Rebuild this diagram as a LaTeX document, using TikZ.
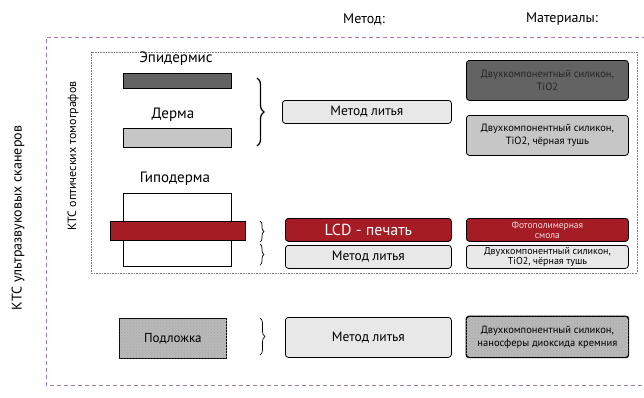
\documentclass[tikz,border=0pt]{standalone}
\usepackage{fontspec}
\setmainfont{PT Sans}
\usetikzlibrary{decorations.pathreplacing,patterns}
\definecolor{kred}{HTML}{A51C24}
\definecolor{kdark}{HTML}{636363}
\definecolor{kmid}{HTML}{C6C6C6}
\definecolor{klight}{HTML}{E8E8E8}
\definecolor{kpurple}{HTML}{A87AA8}
\tikzset{
  bx/.style={draw=black, line width=0.8pt, rounded corners=3pt, inner sep=0pt, anchor=north west},
  layer/.style={draw=black, line width=0.8pt, inner sep=0pt, anchor=north west},
  tex/.style={pattern=crosshatch dots, pattern color=gray!70},
  br/.style={decorate, decoration={brace, amplitude=#1}, line width=0.7pt},
  hdr/.style={font=\fontsize{14}{16}\selectfont},
  lbl/.style={font=\fontsize{15}{17}\selectfont},
  mlit/.style={font=\fontsize{13.5}{15}\selectfont},
  mat/.style={font=\fontsize{10.5}{13}\selectfont, align=center},
  matsm/.style={font=\fontsize{10}{10.5}\selectfont, align=center},
}
\begin{document}
\begin{tikzpicture}[x=1pt,y=-1pt]
\useasboundingbox (0,0) rectangle (644,397);
% outer and inner frames
\draw[kpurple, line width=0.7pt, dash pattern=on 4pt off 3pt] (660,37) -- (46,37) -- (46,385) -- (660,385);
\draw[gray, densely dotted, line width=0.6pt] (91,52) rectangle (637,273);
% headers
\node[hdr] (hm) at (364,19) {Метод:};
\node[hdr] (hmat) at (562,19) {Материалы:};
\node[font=\fontsize{14}{16}\selectfont, rotate=90] (us) at (18,218) {КТС ультразвуковых сканеров};
\node[font=\fontsize{12}{14}\selectfont, rotate=90] (ot) at (73,156) {КТС оптических томографов};
% layers
\node[lbl] (epi) at (176,59) {Эпидермис};
\node[layer, fill=kdark, minimum width=108pt, minimum height=15pt] (epib) at (123,73) {};
\node[lbl] (der) at (173,115) {Дерма};
\node[layer, fill=kmid, minimum width=108pt, minimum height=19pt] (derb) at (123,128) {};
\node[lbl] (hyp) at (175,179) {Гиподерма};
\node[layer, fill=white, minimum width=108pt, minimum height=73pt] (hypb) at (123,193) {};
\node[layer, fill=kred, minimum width=135pt, minimum height=19pt] (hypr) at (110,221) {};
\node[layer, fill=gray!55, minimum width=107pt, minimum height=40pt] (sub) at (119,318) {};
\fill[tex] (sub.north west) rectangle (sub.south east);
\node[font=\fontsize{13}{15}\selectfont] (subt) at (sub.center) {Подложка};
% braces
\coordinate (b1a) at (257,78); \coordinate (b1b) at (257,146);
\draw[br=7pt, line width=1.2pt] (b1a) -- (b1b);
\coordinate (b2a) at (260,221); \coordinate (b2b) at (260,242);
\draw[br=4pt] (b2a) -- (b2b);
\coordinate (b3a) at (260,244); \coordinate (b3b) at (260,265);
\draw[br=4pt] (b3a) -- (b3b);
\coordinate (b4a) at (260,318); \coordinate (b4b) at (260,355);
\draw[br=5pt] (b4a) -- (b4b);
% methods
\node[bx, fill=klight, minimum width=169pt, minimum height=23pt, mlit] (m1) at (282,100) {Метод литья};
\node[bx, fill=kred, text=white, minimum width=166pt, minimum height=23pt, font=\fontsize{16}{18}\selectfont] (m2) at (285,218) {LCD - печать};
\node[bx, fill=klight, minimum width=166pt, minimum height=23pt, mlit] (m3) at (285,245) {Метод литья};
\node[bx, fill=klight, minimum width=166pt, minimum height=40pt, mlit] (m4) at (285,317) {Метод литья};
% materials
\node[bx, fill=kdark, text=black!85, minimum width=162pt, minimum height=40pt, mat] (t1) at (466,60) {Двухкомпонентный силикон,\\TiO2};
\node[bx, fill=kmid, minimum width=162pt, minimum height=40pt, mat] (t2) at (466,115) {Двухкомпонентный силикон,\\TiO2, чёрная тушь};
\node[bx, fill=kred, text=white!85!kred, minimum width=162pt, minimum height=23pt, matsm, font=\fontsize{9.5}{10.5}\selectfont] (t3) at (466,218) {Фотополимерная\\смола};
\node[bx, fill=klight, minimum width=162pt, minimum height=23pt, matsm] (t4) at (466,245) {Двухкомпонентный силикон,\\TiO2, чёрная тушь};
\node[bx, fill=gray!55, minimum width=162pt, minimum height=41pt] (t5) at (466,316) {};
\fill[tex, rounded corners=3pt] (t5.north west) rectangle (t5.south east);
\draw[line width=0.8pt, rounded corners=3pt] (t5.north west) rectangle (t5.south east);
\node[mat] (t5t) at (t5.center) {Двухкомпонентный силикон,\\наносферы диоксида кремния};
\end{tikzpicture}
\end{document}
